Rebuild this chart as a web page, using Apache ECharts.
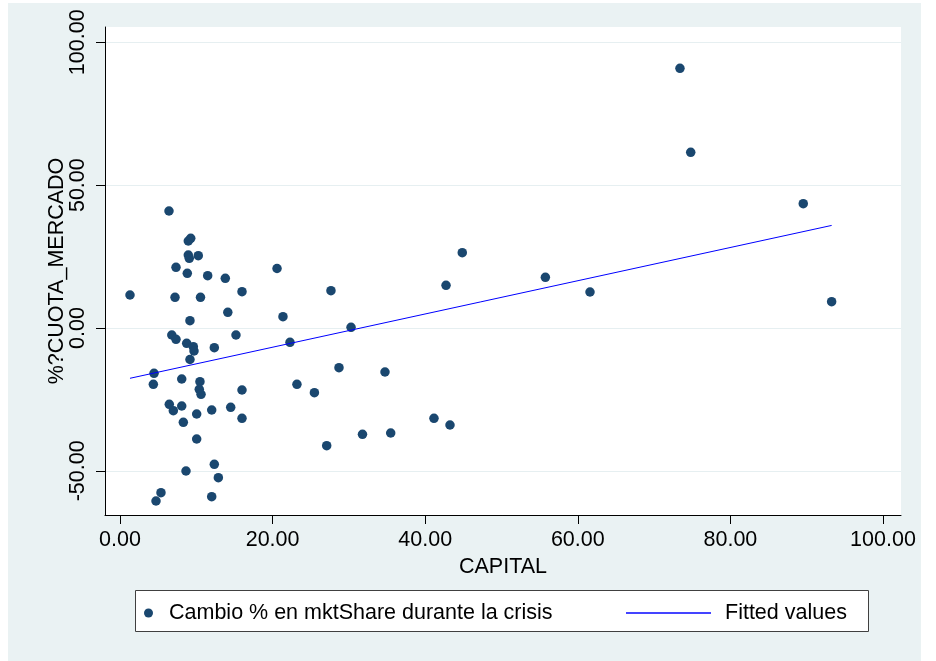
<!DOCTYPE html>
<html><head><meta charset="utf-8">
<script src="https://cdn.jsdelivr.net/npm/echarts@6/dist/echarts.min.js"></script>
<style>html,body{margin:0;padding:0;background:#fff}#c{width:936px;height:661px}</style>
</head><body><div id="c"></div>
<script>
// Data
const capital = [1.31, 6.42, 8.95, 9.27, 8.95, 9.08, 10.26, 7.34, 8.82, 11.49, 13.80, 15.99, 7.21, 10.55, 14.13, 9.17, 6.79, 7.34, 15.20, 8.74, 9.61, 9.70, 12.36, 9.17, 4.46, 4.37, 8.09, 10.48, 10.39, 10.62, 15.99, 6.46, 6.99, 8.09, 8.30, 10.05, 12.02, 14.51, 15.99, 10.05, 8.65, 12.36, 12.89, 5.37, 4.72, 12.02, 20.58, 27.65, 21.36, 30.28, 22.28, 28.70, 34.73, 23.19, 25.48, 41.15, 43.25, 27.09, 31.78, 35.48, 44.86, 42.73, 73.39, 74.80, 89.55, 55.75, 61.60, 93.27];
const cuota = [11.55, 40.95, 30.45, 31.40, 25.55, 24.40, 25.31, 21.25, 19.15, 18.31, 17.40, 12.71, 10.75, 10.75, 5.50, 2.56, -2.45, -3.96, -2.45, -5.36, -6.55, -8.05, -6.90, -11.03, -15.86, -19.71, -17.85, -18.80, -21.46, -23.21, -21.70, -26.71, -28.95, -27.30, -33.01, -30.10, -28.70, -27.76, -31.61, -38.85, -50.05, -47.71, -52.40, -57.65, -60.55, -59.05, 20.83, 13.06, 3.96, 0.25, -5.01, -13.90, -15.40, -19.71, -22.65, -31.61, -33.95, -41.20, -37.21, -36.75, 26.36, 14.95, 90.90, 61.50, 43.51, 17.75, 12.60, 9.21];
const fittedX = [1.31, 93.27];
const fittedY = [-17.6, 35.9];
const xTicks = [0, 20, 40, 60, 80, 100];
const yTicks = [-50, 0, 50, 100];
const seriesNames = ['Cambio % en mktShare durante la crisis', 'Fitted values'];
const xTitle = 'CAPITAL';
const yTitle = '%?CUOTA_MERCADO';

const FONT = '"Liberation Sans", Arial, sans-serif';
const FS = 21.5;
const chart = echarts.init(document.getElementById('c'), null, {renderer: 'canvas'});
const fmt = v => Number(v).toFixed(2);

chart.setOption({
  animation: false,
  backgroundColor: '#ffffff',
  graphic: [
    {type: 'rect', silent: true, z: -10, shape: {x: 8, y: 3, width: 913, height: 658}, style: {fill: '#eaf2f3'}},
    {type: 'rect', silent: true, z: -5, shape: {x: 135.5, y: 590.5, width: 733, height: 41}, style: {fill: '#ffffff', stroke: '#404040', lineWidth: 1}}
  ],
  grid: {left: 105, right: 35, top: 27, bottom: 146, show: true, backgroundColor: '#ffffff', borderWidth: 0},
  xAxis: {
    type: 'value', min: -1.966, max: 102.36,
    name: xTitle, nameLocation: 'middle', nameGap: 40,
    nameTextStyle: {fontSize: FS, color: '#000', fontFamily: FONT},
    axisLine: {show: true, onZero: false, lineStyle: {color: '#000', width: 1}},
    axisTick: {show: true, length: 9, customValues: xTicks, lineStyle: {color: '#000', width: 1}},
    axisLabel: {customValues: xTicks, formatter: fmt, fontSize: FS, color: '#000', fontFamily: FONT, margin: 14},
    splitLine: {show: false}
  },
  yAxis: {
    type: 'value', min: -65.45, max: 105.35,
    name: yTitle, nameLocation: 'middle', nameGap: 37, nameRotate: 90, nameMoveOverlap: false,
    nameTextStyle: {fontSize: FS, color: '#000', fontFamily: FONT},
    axisLine: {show: true, onZero: false, lineStyle: {color: '#000', width: 1}},
    axisTick: {show: true, length: 9, customValues: yTicks, lineStyle: {color: '#000', width: 1}},
    axisLabel: {customValues: yTicks, formatter: fmt, rotate: 90, fontSize: FS, color: '#000', fontFamily: FONT, margin: 16},
    splitLine: {show: true, lineStyle: {color: '#e6eff1', width: 1}}
  },
  legend: [
    {data: [{name: seriesNames[0], icon: 'circle'}], left: 144, top: 602, padding: 0, itemWidth: 9, itemHeight: 9, selectedMode: false,
     itemStyle: {color: '#1a476f', opacity: 1},
     textStyle: {fontSize: FS, color: '#000', fontFamily: FONT, padding: [0, 0, 0, 11]}},
    {data: [{name: seriesNames[1], icon: 'rect'}], left: 626, top: 602, padding: 0, itemWidth: 85, itemHeight: 2, selectedMode: false,
     itemStyle: {color: '#4444ff'},
     textStyle: {fontSize: FS, color: '#000', fontFamily: FONT, padding: [0, 0, 0, 9]}}
  ],
  series: [
    {name: seriesNames[0], type: 'scatter', symbol: 'circle', symbolSize: 9.5,
     itemStyle: {color: '#1a476f', opacity: 1},
     data: capital.map((x, i) => [x, cuota[i]])},
    {name: seriesNames[1], type: 'line', showSymbol: false, symbol: 'none',
     lineStyle: {color: '#0000ff', width: 1}, itemStyle: {color: '#0000ff'},
     data: fittedX.map((x, i) => [x, fittedY[i]])}
  ]
});
</script></body></html>
